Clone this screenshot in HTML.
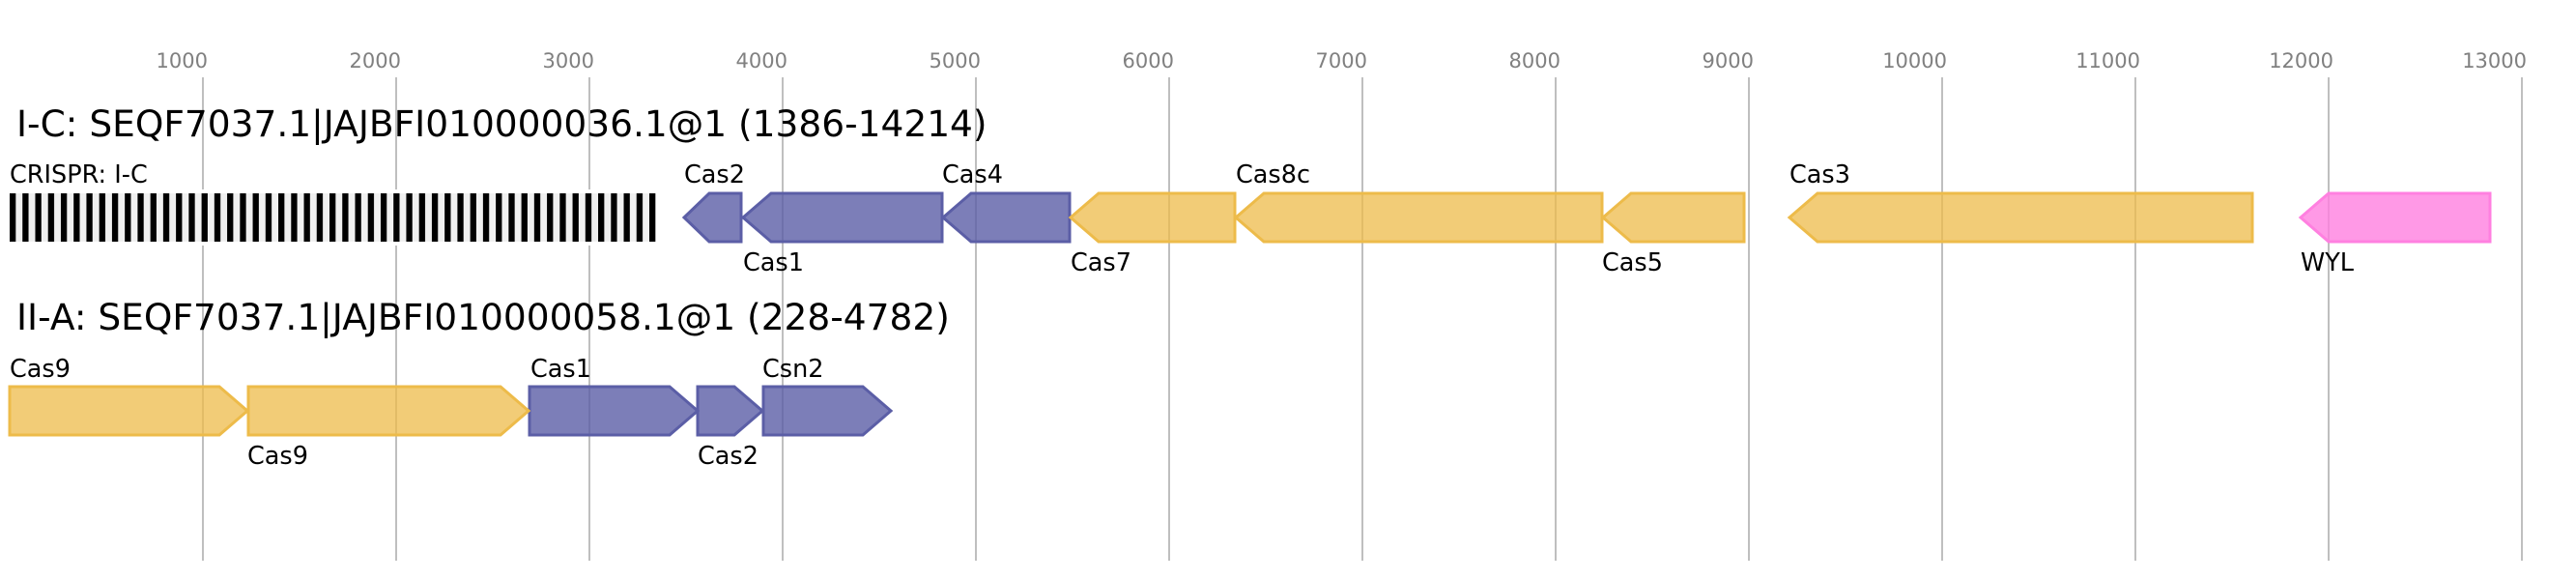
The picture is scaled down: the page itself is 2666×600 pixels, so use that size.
<!DOCTYPE html>
<html><head><meta charset="utf-8"><style>
html,body{margin:0;padding:0;background:#fff;}
svg{display:block;}
text{font-family:"DejaVu Sans","Liberation Sans",sans-serif;}
</style></head><body>
<svg width="2666" height="600" viewBox="0 0 2666 600" xmlns="http://www.w3.org/2000/svg">
<defs>
<pattern id="cr" x="10" y="200" width="13.24" height="50" patternUnits="userSpaceOnUse">
<rect x="0" y="0" width="6.3" height="50" fill="#000"/>
</pattern>
</defs>
<g stroke="#bfbfbf" stroke-width="2">
<line x1="210" y1="80" x2="210" y2="580"/><line x1="410" y1="80" x2="410" y2="580"/>
<line x1="610" y1="80" x2="610" y2="580"/><line x1="810" y1="80" x2="810" y2="580"/>
<line x1="1010" y1="80" x2="1010" y2="580"/><line x1="1210" y1="80" x2="1210" y2="580"/>
<line x1="1410" y1="80" x2="1410" y2="580"/><line x1="1610" y1="80" x2="1610" y2="580"/>
<line x1="1810" y1="80" x2="1810" y2="580"/><line x1="2010" y1="80" x2="2010" y2="580"/>
<line x1="2210" y1="80" x2="2210" y2="580"/><line x1="2410" y1="80" x2="2410" y2="580"/>
<line x1="2610" y1="80" x2="2610" y2="580"/>
</g>
<g fill="#808080" font-size="21" text-anchor="end">
<text x="215" y="70">1000</text><text x="415" y="70">2000</text><text x="615" y="70">3000</text>
<text x="815" y="70">4000</text><text x="1015" y="70">5000</text><text x="1215" y="70">6000</text>
<text x="1415" y="70">7000</text><text x="1615" y="70">8000</text><text x="1815" y="70">9000</text>
<text x="2015" y="70">10000</text><text x="2215" y="70">11000</text><text x="2415" y="70">12000</text>
<text x="2615" y="70">13000</text>
</g>
<text x="17" y="141" font-size="37.5" fill="#000">I-C: SEQF7037.1|JAJBFI010000036.1@1 (1386-14214)</text>
<text x="17" y="341" font-size="37.5" fill="#000">II-A: SEQF7037.1|JAJBFI010000058.1@1 (228-4782)</text>
<!-- CRISPR -->
<rect x="8" y="196" width="672" height="58" fill="#fff"/>
<rect x="10" y="200" width="668" height="50" fill="#f0f0f0"/>
<rect x="10" y="200" width="668.5" height="50" fill="url(#cr)"/>
<g font-size="25.5" fill="#000">
<text x="10" y="189">CRISPR: I-C</text>
<text x="708" y="189">Cas2</text><text x="769" y="280">Cas1</text><text x="975" y="189">Cas4</text>
<text x="1108" y="280">Cas7</text><text x="1279" y="189">Cas8c</text><text x="1658" y="280">Cas5</text>
<text x="1852" y="189">Cas3</text><text x="2381" y="280">WYL</text>
<text x="10" y="390">Cas9</text><text x="256" y="480">Cas9</text><text x="549" y="390">Cas1</text>
<text x="722" y="480">Cas2</text><text x="789" y="390">Csn2</text>
</g>
<g stroke-width="3" stroke-linejoin="miter">
<g fill="#5b5ea6" fill-opacity="0.8" stroke="#5b5ea6">
<polygon points="708,225 734,200 767,200 767,250 734,250"/>
<polygon points="769,225 798,200 975,200 975,250 798,250"/>
<polygon points="976,225 1005,200 1107,200 1107,250 1005,250"/>
<polygon points="548,400 693,400 722,425 693,450 548,450"/>
<polygon points="722,400 760,400 789,425 760,450 722,450"/>
<polygon points="790,400 893,400 922,425 893,450 790,450"/>
</g>
<g fill="#edbb4a" fill-opacity="0.75" stroke="#edbb4a">
<polygon points="1108,225 1137,200 1278,200 1278,250 1137,250"/>
<polygon points="1279,225 1308,200 1658,200 1658,250 1308,250"/>
<polygon points="1659,225 1688,200 1805,200 1805,250 1688,250"/>
<polygon points="1852,225 1881,200 2331,200 2331,250 1881,250"/>
<polygon points="10,400 227,400 256,425 227,450 10,450"/>
<polygon points="257,400 518,400 547,425 518,450 257,450"/>
</g>
<g fill="#ff80e0" fill-opacity="0.8" stroke="#ff80e0">
<polygon points="2381,225 2410,200 2577,200 2577,250 2410,250"/>
</g>
</g>
</svg>
</body></html>
